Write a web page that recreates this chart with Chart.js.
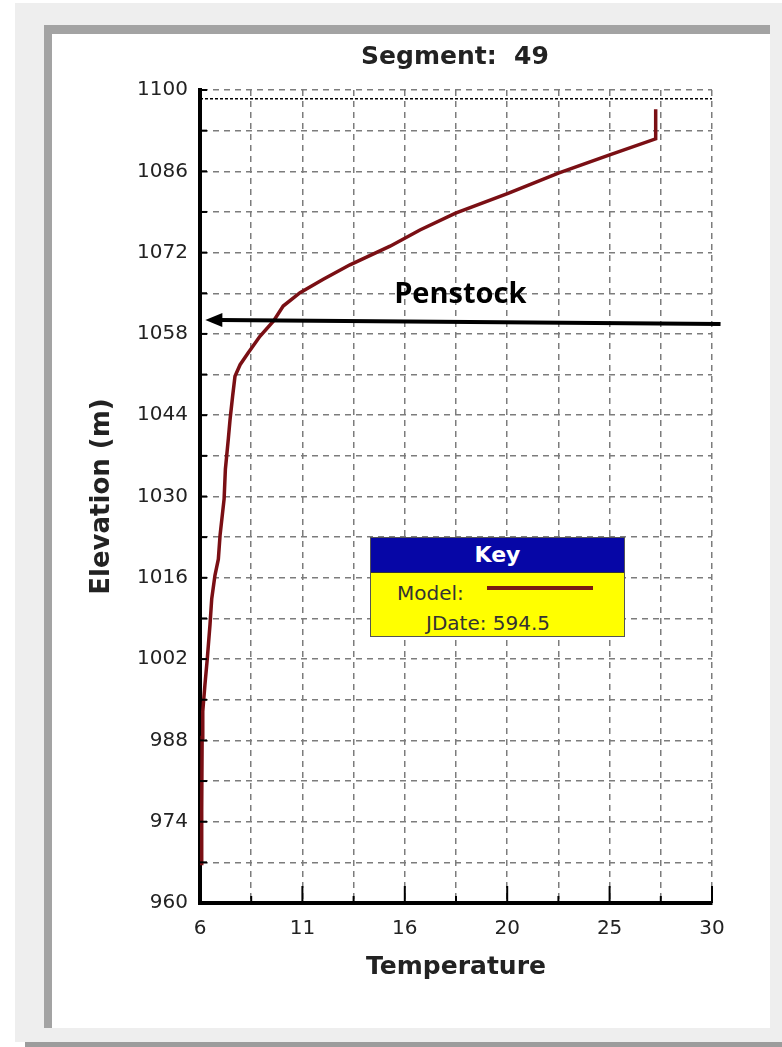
<!DOCTYPE html>
<html>
<head>
<meta charset="utf-8">
<title>Segment 49</title>
<script src="https://cdn.jsdelivr.net/npm/chart.js@4.4.0/dist/chart.umd.min.js"></script>
<style>
  html, body { margin: 0; padding: 0; background: #fff; }
  body { width: 782px; height: 1047px; position: relative; overflow: hidden; font-family: "DejaVu Sans", sans-serif; }
  #outer { position: absolute; left: 15px; top: 3px; width: 767px; height: 1039px; background: #eeeeee; }
  #shadow { position: absolute; left: 25px; top: 1042px; width: 757px; height: 5px; background: #9c9c9c; }
  #panel { position: absolute; left: 44px; top: 25px; width: 718px; height: 994px; background: #fff;
           border-top: 9px solid #a3a3a3; border-left: 8px solid #a3a3a3; }
  #grafica { position: absolute; left: 0; top: 0; z-index: 2; }
  #titulo { position: absolute; left: 255px; top: 41px; width: 400px; text-align: center; z-index: 3;
            font: bold 25px "DejaVu Sans", sans-serif; color: #222; white-space: pre; line-height: 30px; }
  #key { position: absolute; left: 370px; top: 537px; width: 253px; height: 98px; z-index: 3;
         border: 1px solid #555; background: #ffff00; }
  #key .cab { height: 34px; background: #0606a6; border-bottom: 1px solid #333; color: #fff;
              font: bold 22px "DejaVu Sans", sans-serif; text-align: center; line-height: 34px; }
  #key .fila { position: absolute; font: 20px "DejaVu Sans", sans-serif; color: #333; white-space: nowrap; }
  #key .linea { position: absolute; left: 116px; top: 48px; width: 106px; height: 4px; background: #7a1a12; }
</style>
</head>
<body>
<div id="outer"></div>
<div id="shadow"></div>
<div id="panel"></div>
<div id="titulo">Segment:  49</div>
<canvas id="grafica" width="782" height="1047"></canvas>
<div id="key">
  <div class="cab">Key</div>
  <div class="fila" style="left:26px; top:43px;">Model:</div>
  <div class="linea"></div>
  <div class="fila" style="left:55px; top:73px;">JDate: 594.5</div>
</div>

<script>
/* ===============================
   DATOS
=============================== */
// perfil de temperatura del modelo (x = temperatura, y = elevación)
const temperaturas = [6.08, 6.08, 6.1, 6.13, 6.23, 6.34, 6.47, 6.55, 6.7, 6.86, 6.94, 7.13, 7.19,
                      7.33, 7.41, 7.53, 7.64, 7.88, 8.27, 8.81, 9.44, 9.9, 10.69, 11.78, 13.03,
                      14.91, 16.31, 17.98, 20.44, 22.8, 25.17, 27.36, 27.36];
const elevaciones  = [966.5, 976, 988.5, 993, 997.5, 1002, 1008, 1012.4, 1016.4, 1019.2, 1023.3, 1029.6, 1034.7,
                      1040, 1043.3, 1047.3, 1050.7, 1052.7, 1054.8, 1057.6, 1060.2, 1062.8, 1065.1, 1067.4, 1069.9,
                      1073.1, 1075.9, 1078.8, 1082.2, 1085.7, 1088.8, 1091.6, 1096.7];

// superficie del agua (línea punteada arriba)
const superficieTemp = [6, 30];
const superficieElev = [1098.5, 1098.5];

// ticks de los ejes
const xTicks = [6, 8.4, 10.8, 13.2, 15.6, 18, 20.4, 22.8, 25.2, 27.6, 30];
const xEtiquetas = ["6", "", "11", "", "16", "", "20", "", "25", "", "30"];
const yTicks = [960, 967, 974, 981, 988, 995, 1002, 1009, 1016, 1023, 1030, 1037, 1044, 1051,
                1058, 1065, 1072, 1079, 1086, 1093, 1100];
const yEtiquetas = ["960", "", "974", "", "988", "", "1002", "", "1016", "", "1030", "", "1044", "",
                    "1058", "", "1072", "", "1086", "", "1100"];

// flecha de la toma (penstock)
const penstockTemp = [30.4, 6.25];
const penstockElev = [1059.7, 1060.4];
const penstockTexto = "Penstock";
const penstockTextoPos = [18.2, 1064.8];

/* ===============================
   PLUGINS
=============================== */
const marcasInternas = {
  id: "marcasInternas",
  afterDatasetsDraw(chart) {
    const { ctx, chartArea, scales: { x, y } } = chart;
    ctx.save();
    ctx.strokeStyle = "#000";
    ctx.lineWidth = 2;
    xTicks.forEach((v, i) => {
      const px = x.getPixelForValue(v);
      const largo = xEtiquetas[i] ? 17 : 7;
      ctx.beginPath();
      ctx.moveTo(px, chartArea.bottom);
      ctx.lineTo(px, chartArea.bottom - largo);
      ctx.stroke();
    });
    yTicks.forEach(v => {
      const py = y.getPixelForValue(v);
      ctx.beginPath();
      ctx.moveTo(chartArea.left, py);
      ctx.lineTo(chartArea.left + 7, py);
      ctx.stroke();
    });
    ctx.restore();
  }
};

const flechaPenstock = {
  id: "flechaPenstock",
  afterDraw(chart) {
    const { ctx, scales: { x, y } } = chart;
    const x0 = x.getPixelForValue(penstockTemp[0]), y0 = y.getPixelForValue(penstockElev[0]);
    const x1 = x.getPixelForValue(penstockTemp[1]), y1 = y.getPixelForValue(penstockElev[1]);
    const ang = Math.atan2(y1 - y0, x1 - x0);
    ctx.save();
    ctx.strokeStyle = "#000";
    ctx.fillStyle = "#000";
    ctx.lineWidth = 4;
    ctx.beginPath();
    ctx.moveTo(x0, y0);
    ctx.lineTo(x1 - 14 * Math.cos(ang), y1 - 14 * Math.sin(ang));
    ctx.stroke();
    ctx.beginPath();
    ctx.moveTo(x1, y1);
    ctx.lineTo(x1 - 17 * Math.cos(ang) + 7 * Math.sin(ang), y1 - 17 * Math.sin(ang) - 7 * Math.cos(ang));
    ctx.lineTo(x1 - 17 * Math.cos(ang) - 7 * Math.sin(ang), y1 - 17 * Math.sin(ang) + 7 * Math.cos(ang));
    ctx.closePath();
    ctx.fill();
    ctx.font = 'bold 29px "Open Sans", sans-serif';
    ctx.textAlign = "center";
    ctx.textBaseline = "middle";
    ctx.fillText(penstockTexto, x.getPixelForValue(penstockTextoPos[0]), y.getPixelForValue(penstockTextoPos[1]));
    ctx.restore();
  }
};

/* ===============================
   GRÁFICA
=============================== */
const fuenteTicks = { family: "DejaVu Sans", size: 20 };
const fuenteTitulo = { family: "DejaVu Sans", size: 25, weight: "bold" };

new Chart(document.getElementById("grafica"), {
  type: "scatter",
  data: {
    datasets: [
      {
        label: "Model",
        data: temperaturas.map((t, i) => ({ x: t, y: elevaciones[i] })),
        showLine: true,
        borderColor: "#7a0f14",
        borderWidth: 3.5,
        pointRadius: 0,
        tension: 0
      },
      {
        label: "Superficie",
        data: superficieTemp.map((t, i) => ({ x: t, y: superficieElev[i] })),
        showLine: true,
        borderColor: "#000",
        borderWidth: 1.5,
        borderDash: [3, 2],
        pointRadius: 0
      }
    ]
  },
  options: {
    responsive: false,
    animation: false,
    layout: { padding: { left: 0, top: 90, right: 70, bottom: 0 } },
    plugins: { legend: { display: false }, tooltip: { enabled: false } },
    scales: {
      x: {
        type: "linear",
        min: 6,
        max: 30,
        afterBuildTicks: s => { s.ticks = xTicks.map(v => ({ value: v })); },
        afterFit: s => { s.height = 144; },
        ticks: {
          autoSkip: false,
          maxRotation: 0,
          padding: 14,
          color: "#222",
          font: fuenteTicks,
          callback: (v, i) => xEtiquetas[i]
        },
        grid: { color: "#7c7c7c", lineWidth: 1.5, drawTicks: false },
        border: { display: true, color: "#000", width: 4, dash: [6, 5] },
        title: {
          display: true,
          text: "Temperature",
          color: "#222",
          font: fuenteTitulo,
          padding: { top: 0, bottom: 65 }
        }
      },
      y: {
        type: "linear",
        min: 960,
        max: 1100,
        afterBuildTicks: s => { s.ticks = yTicks.map(v => ({ value: v })); },
        afterFit: s => { s.width = 200; },
        ticks: {
          autoSkip: false,
          padding: 12,
          color: "#222",
          font: fuenteTicks,
          callback: (v, i) => yEtiquetas[i]
        },
        grid: { color: "#7c7c7c", lineWidth: 1.5, drawTicks: false },
        border: { display: true, color: "#000", width: 4, dash: [6, 5] },
        title: {
          display: true,
          text: "Elevation (m)",
          color: "#222",
          font: { family: "DejaVu Sans", size: 26, weight: "bold" },
          padding: { top: 87, bottom: 0 }
        }
      }
    }
  },
  plugins: [marcasInternas, flechaPenstock]
});
</script>
</body>
</html>
